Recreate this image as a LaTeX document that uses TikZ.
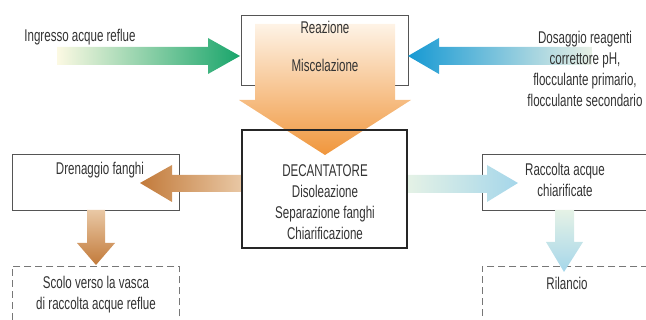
\documentclass[tikz,border=0pt]{standalone}
\usepackage{fontspec}
\setmainfont{Liberation Sans}[FakeStretch=0.68]
\definecolor{testo}{HTML}{333333}
\definecolor{bordo}{HTML}{555555}
\definecolor{verde}{HTML}{19A56B}
\definecolor{verdechiaro}{HTML}{FCF9E3}
\definecolor{blu}{HTML}{1699D3}
\definecolor{bluchiaro}{HTML}{E8F0E6}
\definecolor{arancio}{HTML}{F0963C}
\definecolor{aranciochiaro}{HTML}{FEF3E6}
\definecolor{marrone}{HTML}{C27A3A}
\definecolor{marronechiaro}{HTML}{E9C8A5}
\definecolor{celeste}{HTML}{A5D6EA}
\definecolor{celestechiaro}{HTML}{E5F2E6}
\tikzset{
  txt/.style={text=testo, font=\fontsize{17}{21}\selectfont, inner sep=0pt, align=center},
  box/.style={draw=bordo, line width=0.8pt, inner sep=0pt},
  tratteggio/.style={draw=bordo!80, line width=0.8pt, dash pattern=on 7pt off 4pt}
}
\begin{document}
\begin{tikzpicture}[x=1pt, y=-1pt]
    \useasboundingbox (0,0) rectangle (646,320);
    \clip (0,0) rectangle (646,320);

    %scatole
    \node[box, minimum width=167pt, minimum height=70pt] (reazione) at (324.5,50) {};
    \node[box, minimum width=167pt, minimum height=56pt] (drenaggio) at (95.5,182) {};
    \node[box, minimum width=180pt, minimum height=56pt, anchor=north west] (raccolta) at (482,154) {};
    \node[tratteggio, minimum width=167pt, minimum height=70pt, anchor=north west] (scolo) at (12,266) {};
    \node[tratteggio, minimum width=180pt, minimum height=70pt, anchor=north west] (rilancio) at (482,266) {};

    %frecce ingresso
    \shade[left color=verdechiaro, right color=verde] (57,47) -- ++(151,0) -- ++(0,-9) -- (240,56) -- (208,74) -- ++(0,-9) -- ++(-151,0) -- cycle;
    \shade[left color=blu, right color=bluchiaro] (408,56) -- (439,38) -- ++(0,9) -- ++(153,0) -- ++(0,18) -- ++(-153,0) -- ++(0,9) -- cycle;

    %freccia centrale
    \shade[top color=aranciochiaro, bottom color=arancio] (255,24) -- ++(140,0) -- ++(0,76) -- ++(16,0) -- (325,155) -- (239,100) -- ++(16,0) -- cycle;

    %frecce uscita
    \shade[left color=marrone, right color=marronechiaro] (140,183) -- (172,165) -- ++(0,10) -- ++(70,0) -- ++(0,17) -- ++(-70,0) -- ++(0,10) -- cycle;
    \shade[top color=marronechiaro, bottom color=marrone] (87,210) -- ++(18,0) -- ++(0,33) -- ++(10,0) -- (96,265) -- (77,243) -- ++(10,0) -- cycle;
    \shade[left color=celestechiaro, right color=celeste] (407,175) -- ++(80,0) -- ++(0,-10) -- (518,183) -- (487,202) -- ++(0,-9) -- ++(-80,0) -- cycle;
    \shade[top color=celestechiaro, bottom color=celeste] (555,210) -- ++(19,0) -- ++(0,32) -- ++(9,0) -- (564,272) -- (546,242) -- ++(9,0) -- cycle;

    \node[draw=black!85, line width=1.4pt, minimum width=165pt, minimum height=118pt] (decantatore) at (324.5,189) {};

    %testi
    \node[txt] (ingresso) at (80,37) {Ingresso acque reflue};
    \node[txt] (dosaggio) at (585,69) {Dosaggio reagenti\\correttore pH,\\flocculante primario,\\flocculante secondario};
    \node[txt] (reazionetxt) at (325,27) {Reazione};
    \node[txt] (miscelazione) at (325,65) {Miscelazione};
    \node[txt] (decantatoretxt) at (325,202) {DECANTATORE\\Disoleazione\\Separazione fanghi\\Chiarificazione};
    \node[txt] (drenaggiotxt) at (100,170) {Drenaggio fanghi};
    \node[txt] (scolotxt) at (96,295) {Scolo verso la vasca\\di raccolta acque reflue};
    \node[txt] (raccoltatxt) at (565,180) {Raccolta acque\\chiarificate};
    \node[txt] (rilanciotxt) at (567,283) {Rilancio};
\end{tikzpicture}
\end{document}
